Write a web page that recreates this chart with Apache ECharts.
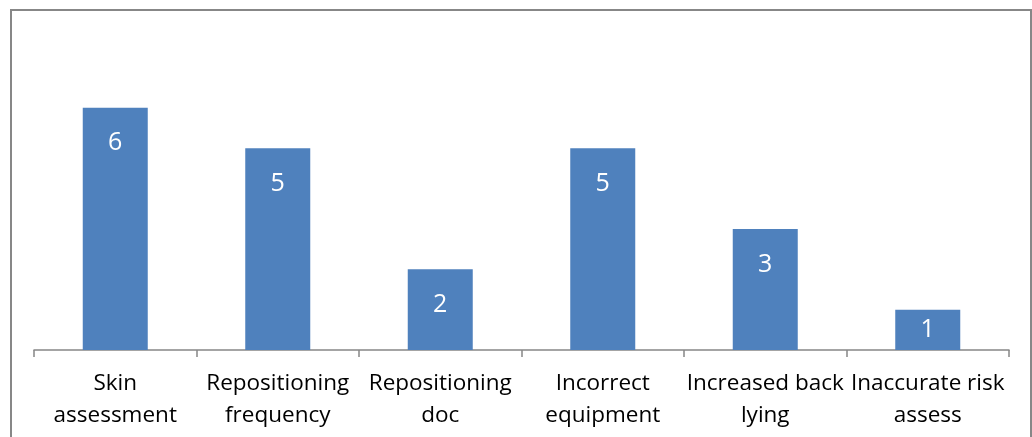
<!DOCTYPE html>
<html>
<head>
<meta charset="utf-8">
<style>
  html, body { margin: 0; padding: 0; background: #fff; }
  #chart { width: 1032px; height: 437px; }
</style>
<script src="https://cdn.jsdelivr.net/npm/echarts@6/dist/echarts.min.js"></script>
</head>
<body>
<div id="chart"></div>
<script>
// Categories (line breaks where the axis label wraps)
const categories = [
  'Skin\nassessment',
  'Repositioning\nfrequency',
  'Repositioning\ndoc',
  'Incorrect\nequipment',
  'Increased back\nlying',
  'Inaccurate risk\nassess'
];
// Count per category
const counts = [6, 5, 2, 5, 3, 1];

const chart = echarts.init(document.getElementById('chart'), null, { renderer: 'canvas' });

// Value labels sit near the bar end; short bars pull the label up to stay inside
const barData = counts.map(v => ({
  value: v,
  label: { distance: v <= 1 ? 8 : 23 }
}));

chart.setOption({
  animation: false,
  backgroundColor: '#ffffff',
  graphic: [{
    type: 'rect',
    shape: { x: 11, y: 10, width: 1020, height: 460 },
    style: { fill: 'none', stroke: '#878787', lineWidth: 2 },
    silent: true
  }],
  grid: { left: 34, right: 23, top: 27, bottom: 87, containLabel: false },
  xAxis: {
    type: 'category',
    data: categories,
    axisLine: { lineStyle: { color: '#878787', width: 1.5 } },
    axisTick: { show: true, alignWithLabel: false, length: 7, lineStyle: { color: '#878787', width: 1.5 } },
    axisLabel: {
      interval: 0,
      margin: 18,
      color: '#000',
      fontFamily: 'Open Sans',
      fontSize: 22.5,
      lineHeight: 32,
      align: 'center'
    }
  },
  yAxis: {
    type: 'value',
    min: 0,
    max: 8,
    show: false,
    splitLine: { show: false }
  },
  series: [{
    type: 'bar',
    data: barData,
    barWidth: '40%',
    itemStyle: { color: '#4F81BD' },
    label: {
      show: true,
      position: 'insideTop',
      color: '#ffffff',
      fontFamily: 'Open Sans',
      fontSize: 25
    }
  }]
});
</script>
</body>
</html>
